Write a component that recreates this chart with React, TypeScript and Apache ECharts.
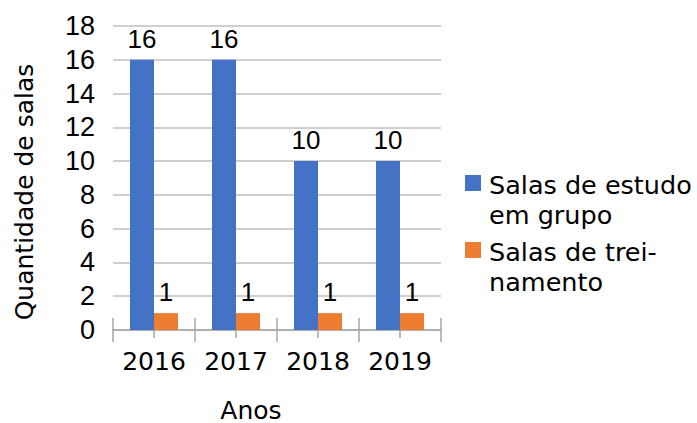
import React, { useEffect, useRef } from "react";
import * as echarts from "echarts";

const categories = ["2016", "2017", "2018", "2019"];
const seriesNames = ["Salas de estudo em grupo", "Salas de treinamento"];
const legendLines = [["Salas de estudo", "em grupo"], ["Salas de trei-", "namento"]];
const estudoValues = [16, 16, 10, 10];
const treinamentoValues = [1, 1, 1, 1];
const yTicks = [0, 2, 4, 6, 8, 10, 12, 14, 16, 18];
const colors = ["#4472C4", "#ED7D31"];

export default function App() {
  const ref = useRef<HTMLDivElement>(null);
  useEffect(() => {
    if (!ref.current) return;
    const chart = echarts.init(ref.current, null, { renderer: "svg" });
    const dejavu = "DejaVu Sans";
    const liberation = "Liberation Sans";
    const label = {
      show: true,
      position: "top",
      distance: 8,
      color: "#000",
      fontSize: 26,
      fontFamily: liberation,
    };
    const legendGraphics: any[] = [];
    legendLines.forEach((lines, i) => {
      const top = 175 + i * 67;
      legendGraphics.push({
        type: "rect",
        shape: { x: 465, y: top, width: 16, height: 16 },
        style: { fill: colors[i] },
      });
      lines.forEach((ln, j) => {
        legendGraphics.push({
          type: "text",
          x: 489,
          y: top + 10 + j * 30,
          style: {
            text: ln,
            fontSize: 25.5,
            fontFamily: dejavu,
            fill: "#000",
            verticalAlign: "middle",
            align: "left",
          },
        });
      });
    });
    const tickStyle = { color: "#a6a6a6", width: 1.5 };
    chart.setOption({
      animation: false,
      grid: { left: 113, right: 256, top: 26, bottom: 93, containLabel: false },
      xAxis: [
        {
          type: "category",
          data: categories,
          axisLine: { show: true, lineStyle: tickStyle },
          axisTick: { show: true, alignWithLabel: false, interval: 0, length: 12, lineStyle: tickStyle },
          axisLabel: { color: "#000", fontSize: 25, fontFamily: dejavu, margin: 19, interval: 0 },
        },
        {
          type: "category",
          data: categories,
          position: "bottom",
          axisLine: { show: false },
          axisTick: { show: true, inside: true, alignWithLabel: false, interval: 0, length: 12, lineStyle: tickStyle },
          axisLabel: { show: false },
        },
        {
          type: "category",
          data: categories,
          position: "bottom",
          axisLine: { show: false },
          axisTick: { show: true, alignWithLabel: true, interval: 0, length: 8, lineStyle: tickStyle },
          axisLabel: { show: false },
        },
      ],
      yAxis: {
        type: "value",
        min: yTicks[0],
        max: yTicks[yTicks.length - 1],
        interval: 2,
        axisLine: { show: false },
        axisTick: { show: false },
        axisLabel: { color: "#000", fontSize: 27, fontFamily: liberation, margin: 18 },
        splitLine: { lineStyle: { color: "#bfbfbf", width: 1.5 } },
      },
      series: [
        {
          name: seriesNames[0],
          type: "bar",
          data: estudoValues,
          barWidth: 24,
          barGap: "0%",
          itemStyle: { color: colors[0] },
          label,
        },
        {
          name: seriesNames[1],
          type: "bar",
          data: treinamentoValues,
          barWidth: 24,
          barGap: "0%",
          itemStyle: { color: colors[1] },
          label,
        },
      ],
      graphic: [
        {
          type: "text",
          x: 251,
          y: 410,
          style: {
            text: "Anos",
            fontSize: 25,
            fontFamily: dejavu,
            fill: "#000",
            align: "center",
            verticalAlign: "middle",
          },
        },
        {
          type: "text",
          x: 24,
          y: 192,
          rotation: Math.PI / 2,
          style: {
            text: "Quantidade de salas",
            fontSize: 25,
            fontFamily: dejavu,
            fill: "#000",
            align: "center",
            verticalAlign: "middle",
          },
        },
        ...legendGraphics,
      ],
    });
    return () => chart.dispose();
  }, []);
  return <div ref={ref} style={{ width: 697, height: 423, position: "absolute", left: 0, top: 0 }} />;
}
